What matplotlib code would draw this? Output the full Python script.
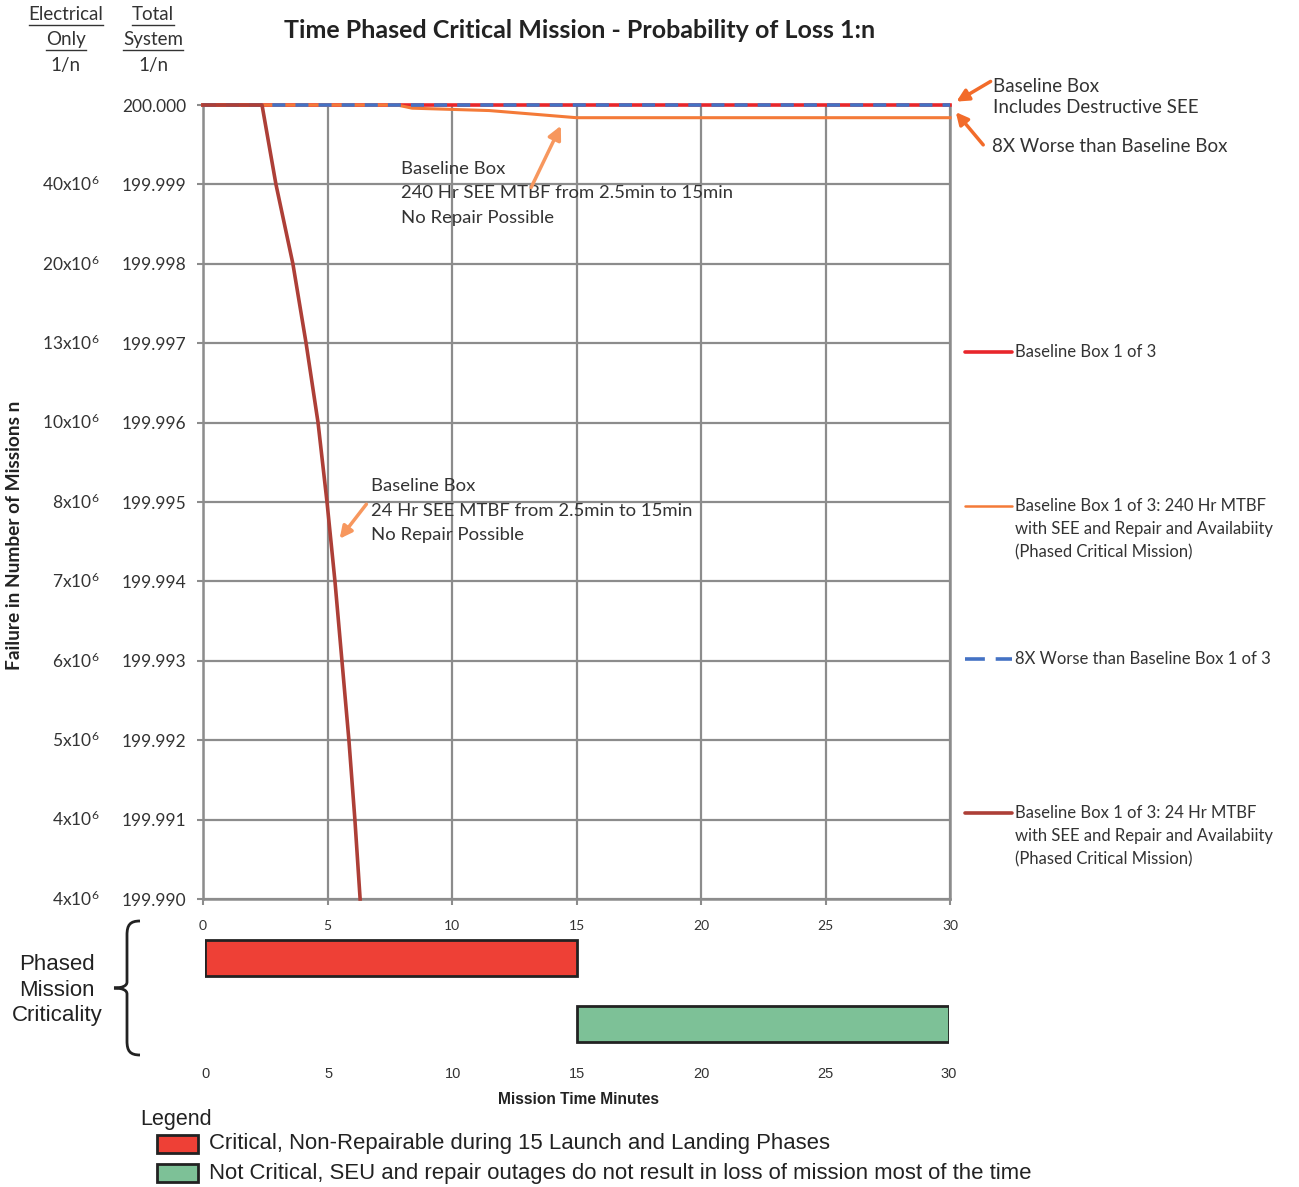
import matplotlib
matplotlib.use("Agg")
import matplotlib.pyplot as plt
from matplotlib.lines import Line2D
from matplotlib.patches import Rectangle, PathPatch, FancyArrowPatch
from matplotlib.path import Path

# --- data ---
time_baseline = [0, 30]
loss_baseline = [200.000, 200.000]

time_8x = [0, 30]
loss_8x = [200.000, 200.000]

time_240 = [0, 7.8, 8.4, 11.5, 15, 30]
loss_240 = [200.000, 200.000, 199.99996, 199.99993, 199.99984, 199.99984]

time_24 = [0, 2.37, 2.93, 3.61, 4.14, 4.62, 4.98, 5.30, 5.58, 5.86, 6.10, 6.31]
loss_24 = [200.000, 200.000, 199.999, 199.998, 199.997, 199.996, 199.995,
           199.994, 199.993, 199.992, 199.991, 199.990]

total_ticks = [200.000, 199.999, 199.998, 199.997, 199.996, 199.995,
               199.994, 199.993, 199.992, 199.991, 199.990]
electrical_labels = ["", "40x10$^6$", "20x10$^6$", "13x10$^6$", "10x10$^6$", "8x10$^6$",
                     "7x10$^6$", "6x10$^6$", "5x10$^6$", "4x10$^6$", "4x10$^6$"]
x_ticks = [0, 5, 10, 15, 20, 25, 30]

phases = ["Critical, Non-Repairable during 15 Launch and Landing Phases",
          "Not Critical, SEU and repair outages do not result in loss of mission most of the time"]
phase_start = [0, 15]
phase_length = [15, 15]

RED = "#e8262b"
ORANGE = "#f47a38"
BLUE = "#4472c4"
BROWN = "#ad3f37"
GRID = "#8c8c8c"
ARROW = "#f26b2a"
BAR_RED = "#ee4036"
BAR_GREEN = "#7dc197"
TXT = "#333333"

W, H = 1299, 1187
plt.rcParams["font.family"] = ["Lato", "DejaVu Sans"]
plt.rcParams["mathtext.fontset"] = "custom"
plt.rcParams["mathtext.rm"] = "Lato"
plt.rcParams["mathtext.it"] = "Lato"


def fx(px):
    return px / W


def fy(py):
    return 1 - py / H


fig = plt.figure(figsize=(W / 100, H / 100), dpi=100)

# --- main chart ---
ax = fig.add_axes([fx(203), fy(899), fx(950) - fx(203), fy(105) - fy(899)])
ax.plot(time_baseline, loss_baseline, color=RED, lw=2.6, clip_on=False, zorder=3)
ax.plot(time_240, loss_240, color=ORANGE, lw=2.2, clip_on=False, zorder=4)
ax.plot(time_8x, loss_8x, color=BLUE, lw=2.6, dashes=(3.6, 2.8), clip_on=False, zorder=5)
ax.plot(time_24, loss_24, color=BROWN, lw=2.6, clip_on=False, zorder=6)

ax.set_xlim(0, 30)
ax.set_ylim(199.990, 200.000)
ax.set_xticks(x_ticks)
ax.set_xticklabels([str(t) for t in x_ticks], fontsize=10, color=TXT)
ax.set_yticks(total_ticks)
ax.set_yticklabels([f"{v:.3f}" for v in total_ticks], fontsize=12.5, color=TXT)
ax.tick_params(axis="both", length=4, color=GRID, width=1.5)
ax.tick_params(axis="y", pad=8)
ax.tick_params(axis="x", pad=11)
ax.grid(True, color=GRID, lw=1.6)
ax.set_axisbelow(True)
for side in ["left", "bottom", "right"]:
    ax.spines[side].set_color(GRID)
    ax.spines[side].set_linewidth(1.8)
ax.spines["top"].set_visible(False)

for v, lab in zip(total_ticks, electrical_labels):
    ax.text(-0.138, v, lab, transform=ax.get_yaxis_transform(), ha="right",
            va="center", fontsize=12.5, color=TXT)

fig.text(fx(15), fy(535), "Failure in Number of Missions n", rotation=90,
         ha="center", va="center", fontsize=13.8, fontweight="bold", color="#222222")

fig.text(fx(580), fy(30), "Time Phased Critical Mission - Probability of Loss 1:n",
         ha="center", va="center", fontsize=18, fontweight="bold", color="#222222")

# column headers (underlined)
renderer = fig.canvas.get_renderer()
for xc, words in [(66, ["Electrical", "Only"]), (153, ["Total", "System"])]:
    for yc, word in zip([15, 40], words):
        t = fig.text(fx(xc), fy(yc), word, ha="center", va="center", fontsize=13.5,
                     color=TXT)
        bb = t.get_window_extent(renderer)
        fig.add_artist(Line2D([bb.x0 / W, bb.x1 / W], [(bb.y0 - 1) / H] * 2,
                              transform=fig.transFigure, color=TXT, lw=1.0))
    fig.text(fx(xc), fy(66), "1/n", ha="center", va="center", fontsize=13.5, color=TXT)

# annotations inside the plot
ax.text(7.95, 199.99889, "Baseline Box\n240 Hr SEE MTBF from 2.5min to 15min\nNo Repair Possible",
        ha="left", va="center", fontsize=13.3, color=TXT, linespacing=1.65)
ax.annotate("", xy=(14.42, 199.99977), xytext=(13.13, 199.99893),
            arrowprops=dict(arrowstyle="-|>", color="#f7975e", lw=2.5, mutation_scale=20))
ax.text(6.75, 199.99489, "Baseline Box\n24 Hr SEE MTBF from 2.5min to 15min\nNo Repair Possible",
        ha="left", va="center", fontsize=13.3, color=TXT, linespacing=1.65)
ax.annotate("", xy=(5.42, 199.99451), xytext=(6.63, 199.99500),
            arrowprops=dict(arrowstyle="-|>", color="#f7975e", lw=2.5, mutation_scale=18))

# right-hand annotations
fig.text(fx(993), fy(97), "Baseline Box\nIncludes Destructive SEE", ha="left", va="center",
         fontsize=13.5, color=TXT, linespacing=1.3)
fig.text(fx(992), fy(146), "8X Worse than Baseline Box", ha="left", va="center",
         fontsize=13.5, color=TXT)
fig.add_artist(FancyArrowPatch(
    (fx(993), fy(80)), (fx(954), fy(103)), transform=fig.transFigure,
    arrowstyle="-|>", color=ARROW, lw=2.5, mutation_scale=18))
fig.add_artist(FancyArrowPatch(
    (fx(985), fy(147)), (fx(954), fy(110)), transform=fig.transFigure,
    arrowstyle="-|>", color=ARROW, lw=2.5, mutation_scale=18))

# right-hand series key
key = [
    (352, RED, 2.6, "-", "Baseline Box 1 of 3"),
    (506, ORANGE, 1.8, "-", "Baseline Box 1 of 3: 240 Hr MTBF\nwith SEE and Repair and Availabiity\n(Phased Critical Mission)"),
    (659, BLUE, 2.6, "--", "8X Worse than Baseline Box 1 of 3"),
    (813, BROWN, 2.6, "-", "Baseline Box 1 of 3: 24 Hr MTBF\nwith SEE and Repair and Availabiity\n(Phased Critical Mission)"),
]
for yk, col, lw, ls, lab in key:
    ln = Line2D([fx(965), fx(1012)], [fy(yk)] * 2, transform=fig.transFigure,
                color=col, lw=lw, solid_capstyle="round")
    if ls == "--":
        ln.set_dashes((5.5, 3.0))
    fig.add_artist(ln)
    fig.text(fx(1015), fy(yk - 8), lab, ha="left", va="top", fontsize=12, color=TXT,
             linespacing=1.55)

# --- phased mission criticality panel ---
bx = fig.add_axes([fx(205), fy(1057), fx(949) - fx(205), fy(925) - fy(1057)])
bx.set_facecolor("none")
bx.barh([0, 1], phase_length, left=phase_start, height=0.56,
        color=[BAR_RED, BAR_GREEN], edgecolor="#222222", linewidth=2)
bx.set_xlim(0, 30)
bx.set_ylim(1.5, -0.5)
bx.set_yticks([])
bx.set_xticks(x_ticks)
bx.set_xticklabels([str(t) for t in x_ticks], fontsize=10.5, family="Liberation Sans",
                   color=TXT)
bx.tick_params(axis="x", length=0, pad=7)
for s in bx.spines.values():
    s.set_visible(False)

fig.text(fx(579), fy(1100), "Mission Time Minutes", ha="center", va="center",
         fontsize=11.2, fontweight="bold", family="Liberation Sans", color="#222222")

fig.text(fx(57), fy(990), "Phased\nMission\nCriticality", ha="center", va="center",
         fontsize=16, family="Liberation Sans", color="#222222", linespacing=1.27)

# curly brace
pts = [(140, 921), (130, 921), (127, 925), (127, 935),
       (127, 982),
       (127, 986), (122, 988), (114, 988),
       (122, 988), (127, 990), (127, 994),
       (127, 1041),
       (127, 1051), (130, 1055), (140, 1055)]
codes = [Path.MOVETO, Path.CURVE4, Path.CURVE4, Path.CURVE4,
         Path.LINETO,
         Path.CURVE4, Path.CURVE4, Path.CURVE4,
         Path.CURVE4, Path.CURVE4, Path.CURVE4,
         Path.LINETO,
         Path.CURVE4, Path.CURVE4, Path.CURVE4]
brace = Path([(fx(x), fy(y)) for x, y in pts], codes)
fig.add_artist(PathPatch(brace, transform=fig.transFigure, fill=False,
                         edgecolor="#222222", lw=2))

# bottom legend
fig.text(fx(140), fy(1119), "Legend", ha="left", va="center", fontsize=15.5,
         family="Liberation Sans", color="#222222")
for yl, col, lab in [(1144, BAR_RED, phases[0]), (1173, BAR_GREEN, phases[1])]:
    fig.add_artist(Rectangle((fx(157), fy(yl + 9)), fx(198) - fx(157), fy(yl - 9) - fy(yl + 9),
                             transform=fig.transFigure, facecolor=col,
                             edgecolor="#222222", lw=2))
    fig.text(fx(209), fy(yl), lab, ha="left", va="center", fontsize=15.9,
             family="Liberation Sans", color="#222222")

fig.savefig("out.png", dpi=100)
